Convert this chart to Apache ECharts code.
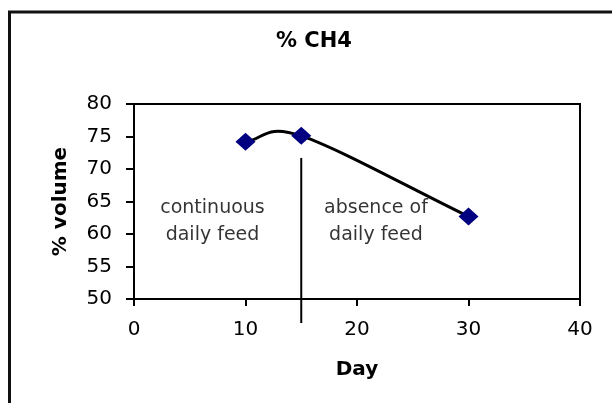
<!DOCTYPE html>
<html>
<head>
<meta charset="utf-8">
<script src="https://cdn.jsdelivr.net/npm/echarts@6/dist/echarts.min.js"></script>
<style>
html,body{margin:0;padding:0;background:#fff;}
#main{width:612px;height:403px;}
</style>
</head>
<body>
<div id="main"></div>
<script>
// ---- data ----
var chartTitle = '% CH4';
var xAxisTitle = 'Day';
var yAxisTitle = '% volume';
var days = [10, 15, 30];
var ch4 = [74.2, 75.1, 62.7];
var dividerDays = [15, 15];
var dividerValues = [71.7, 46.3];
var noteLabels = ['continuous\ndaily feed', 'absence of\ndaily feed'];
var noteDays = [7.04, 21.7];
var noteValues = [61.85, 61.85];

var FONT = 'DejaVu Sans';
var chart = echarts.init(document.getElementById('main'), null, {renderer: 'canvas'});

var points = days.map(function (d, i) { return [d, ch4[i]]; });

// Excel-like smoothed curve through the data points, positioned with the chart's own scales
function renderCurve(params, api) {
  if (params.dataIndex !== 0) return null;
  var px = points.map(function (p) { return api.coord(p); });
  var n = px.length;
  var tan = px.map(function (p, i) {
    var a = px[Math.max(0, i - 1)], b = px[Math.min(n - 1, i + 1)];
    var k = (i === 0 || i === n - 1) ? 1 : 0.5;
    return [(b[0] - a[0]) * k, (b[1] - a[1]) * k];
  });
  var d = 'M' + px[0][0] + ' ' + px[0][1];
  for (var i = 0; i < n - 1; i++) {
    var c1 = [px[i][0] + tan[i][0] / 3, px[i][1] + tan[i][1] / 3];
    var c2 = [px[i + 1][0] - tan[i + 1][0] / 3, px[i + 1][1] - tan[i + 1][1] / 3];
    d += ' C' + c1[0] + ' ' + c1[1] + ' ' + c2[0] + ' ' + c2[1] + ' ' + px[i + 1][0] + ' ' + px[i + 1][1];
  }
  return {
    type: 'path',
    shape: {pathData: d},
    style: {fill: 'none', stroke: '#000', lineWidth: 3}
  };
}

var option = {
  animation: false,
  backgroundColor: '#fff',
  title: {
    text: chartTitle,
    left: 276,
    top: 31,
    padding: 0,
    textStyle: {fontFamily: FONT, fontSize: 21, fontWeight: 'bold', color: '#000'}
  },
  graphic: [
    {type: 'rect', shape: {x: 9.5, y: 12, width: 700, height: 500},
     style: {fill: 'none', stroke: '#111', lineWidth: 3}, silent: true}
  ],
  grid: {
    left: 134, right: 32, top: 104, bottom: 104,
    show: true, borderColor: '#000', borderWidth: 2, backgroundColor: 'transparent'
  },
  xAxis: {
    type: 'value', min: 0, max: 40, interval: 10,
    name: xAxisTitle, nameLocation: 'middle', nameGap: 61,
    nameTextStyle: {fontFamily: FONT, fontSize: 20, fontWeight: 'bold', color: '#000'},
    axisLine: {show: true, onZero: false, lineStyle: {color: '#000', width: 2}},
    axisTick: {show: true, inside: false, length: 7, lineStyle: {color: '#000', width: 2}},
    axisLabel: {fontFamily: FONT, fontSize: 20, color: '#000', margin: 21},
    splitLine: {show: false}
  },
  yAxis: {
    type: 'value', min: 50, max: 80, interval: 5,
    name: yAxisTitle, nameLocation: 'middle', nameGap: 63, nameRotate: 90,
    nameTextStyle: {fontFamily: FONT, fontSize: 20, fontWeight: 'bold', color: '#000'},
    axisLine: {show: true, onZero: false, lineStyle: {color: '#000', width: 2}},
    axisTick: {show: true, inside: false, length: 8, lineStyle: {color: '#000', width: 2}},
    axisLabel: {fontFamily: FONT, fontSize: 20, color: '#000', margin: 22},
    splitLine: {show: false}
  },
  series: [
    {
      type: 'custom',
      renderItem: renderCurve,
      data: points,
      z: 2
    },
    {
      type: 'scatter',
      data: points,
      symbol: 'diamond',
      symbolSize: [20, 18],
      itemStyle: {color: '#000080', opacity: 1},
      z: 3
    },
    {
      type: 'line',
      data: dividerDays.map(function (d, i) { return [d, dividerValues[i]]; }),
      symbol: 'none',
      clip: false,
      lineStyle: {color: '#000', width: 2},
      z: 2
    },
    {
      type: 'scatter',
      data: noteDays.map(function (d, i) { return {value: [d, noteValues[i]], name: noteLabels[i]}; }),
      symbolSize: 0,
      label: {
        show: true, position: 'inside',
        formatter: function (p) { return p.name; },
        fontFamily: FONT, fontSize: 19, color: '#000', lineHeight: 27, align: 'center'
      },
      z: 4
    }
  ]
};
chart.setOption(option);
</script>
</body>
</html>
